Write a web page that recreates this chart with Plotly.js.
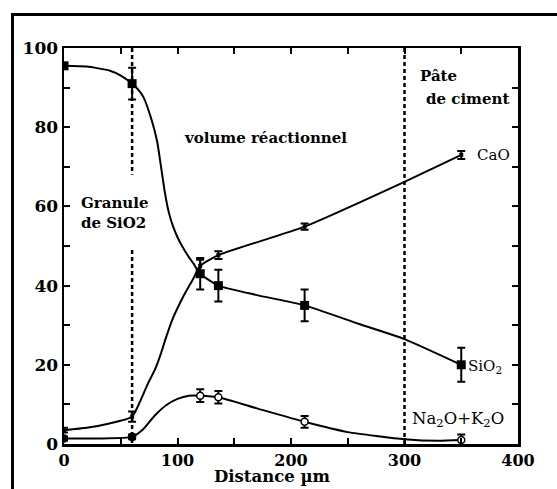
<!DOCTYPE html>
<html>
<head>
<meta charset="utf-8">
<script src="https://cdn.plot.ly/plotly-3.0.1.min.js"></script>
<style>
  html, body { margin: 0; padding: 0; background: #fff; }
  #wrap { position: relative; width: 557px; height: 489px; overflow: hidden; }
  #chart { position: absolute; left: 0; top: 0; width: 557px; height: 489px; }
  #frame { position: absolute; left: 11px; top: 13px; width: 560px; height: 490px;
           border-left: 3px solid #000; border-top: 3px solid #000; pointer-events: none; }
</style>
</head>
<body>
<div id="wrap"><div id="chart"></div><div id="frame"></div></div>
<script>
// ---- measured points (distance in µm, content in %) ----
const distance = [0, 60, 120, 136, 212, 350];
const sio2 = [95.5, 91, 43, 40, 35, 20];
const sio2Err = [0, 4, 4, 4, 4, 4.3];
const cao = [3.5, 6.9, 45, 47.7, 54.9, 73];
const caoErr = [0.6, 1.3, 1.5, 1, 0.8, 1];
const na2o = [1.4, 1.8, 12.2, 11.8, 5.6, 1];
const na2oErr = [0.5, 0.6, 1.6, 1.6, 1.5, 1.4];

// ---- fitted curves ----
const sio2CurveX = [0, 20, 40, 50, 60, 65, 70, 77, 82, 85.5, 89, 92.5, 96, 100, 104, 110, 114, 120, 136, 170, 212, 260, 300, 350];
const sio2CurveY = [95.5, 95.3, 94.3, 93, 91, 89.6, 87.6, 82, 76.5, 70, 63.3, 58.3, 55, 52.2, 50, 47.2, 45.6, 43, 40, 37.6, 35, 30.3, 26.5, 20];
const caoCurveX = [0, 20, 40, 60, 67, 74, 80, 85, 90, 96, 105, 114, 120, 136, 212, 300, 350];
const caoCurveY = [3.5, 4.1, 5.2, 6.9, 10.7, 15.3, 18.7, 22.5, 27, 31.8, 37.2, 41.8, 45, 47.7, 54.9, 66.2, 73];
const naCurveX = [0, 30, 60, 70, 80, 90, 100, 110, 120, 136, 170, 212, 250, 300, 330, 350];
const naCurveY = [1.4, 1.4, 1.8, 3.8, 7.2, 9.8, 11.4, 12.2, 12.2, 11.8, 9, 5.6, 3, 1.2, 0.8, 1];

// ---- axis ticks ----
const xTickVals = [0, 50, 100, 150, 200, 250, 300, 350, 400];
const xTickText = ['0', '', '100', '', '200', '', '300', '', '400'];
const yTickVals = [0, 10, 20, 30, 40, 50, 60, 70, 80, 90, 100];
const yTickText = ['0', '', '20', '', '40', '', '60', '', '80', '', '100'];

const serif = '"DejaVu Serif", serif';
const naFill = na2o.map((v, i) => i < 2 ? '#000' : '#fff');

function curve(x, y) {
  return { x: x, y: y, mode: 'lines', type: 'scatter', hoverinfo: 'skip',
           line: { color: '#000', width: 2, shape: 'spline', smoothing: 0.5 }, showlegend: false };
}
function pts(y, err, marker) {
  return { x: distance, y: y, mode: 'markers', type: 'scatter', showlegend: false,
           marker: marker,
           error_y: { type: 'data', array: err, visible: true, color: '#000', thickness: 2, width: 4 } };
}

const traces = [
  curve(sio2CurveX, sio2CurveY),
  curve(caoCurveX, caoCurveY),
  curve(naCurveX, naCurveY),
  pts(sio2, sio2Err, { symbol: 'square', size: 9, color: '#000' }),
  pts(cao, caoErr, { symbol: 'square', size: 4, color: '#000' }),
  pts(na2o, na2oErr, { symbol: 'circle', size: 7, color: naFill, line: { color: '#000', width: 1.5 } })
];

const ann = (x, y, text, size, bold) => ({
  x: x, y: y, xref: 'x', yref: 'y', text: bold ? '<b>' + text + '</b>' : text,
  showarrow: false, xanchor: 'left', yanchor: 'middle', align: 'left',
  font: { family: serif, size: size, color: '#000' }
});

const layout = {
  width: 557, height: 489,
  margin: { l: 64, r: 39, t: 48, b: 45 },
  paper_bgcolor: '#fff', plot_bgcolor: '#fff',
  font: { family: serif, color: '#000' },
  xaxis: {
    range: [0, 400], showgrid: false, zeroline: false,
    showline: true, linecolor: '#000', linewidth: 2.5, mirror: 'allticks',
    ticks: 'inside', ticklen: 6, tickwidth: 2, tickcolor: '#000',
    tickvals: xTickVals, ticktext: xTickText.map(t => t ? '<b>' + t + '</b>' : ''),
    tickfont: { family: serif, size: 16, color: '#000' }
  },
  yaxis: {
    range: [0, 100], showgrid: false, zeroline: false,
    showline: true, linecolor: '#000', linewidth: 2.5, mirror: 'allticks',
    ticks: 'inside', ticklen: 6, tickwidth: 2, tickcolor: '#000',
    tickvals: yTickVals, ticktext: yTickText.map(t => t ? '<b>' + t + '</b>' : ''),
    tickfont: { family: serif, size: 17, color: '#000' }
  },
  shapes: [
    { type: 'line', xref: 'x', yref: 'y', x0: 60, x1: 60, y0: 100, y1: 68,
      line: { color: '#000', width: 2.5, dash: '4px,3px' } },
    { type: 'line', xref: 'x', yref: 'y', x0: 60, x1: 60, y0: 49, y1: 0,
      line: { color: '#000', width: 2.5, dash: '4px,3px' } },
    { type: 'line', xref: 'x', yref: 'y', x0: 300, x1: 300, y0: 100, y1: 0,
      line: { color: '#000', width: 2.5, dash: '4px,3px' } }
  ],
  annotations: [
    ann(104, 77.3, 'volume réactionnel', 15, true),
    ann(13.5, 58.3, 'Granule<br>de SiO2', 15, true),
    ann(312, 92.9, 'Pâte', 15, true),
    ann(317, 87.1, 'de ciment', 15, true),
    ann(362, 73, 'CaO', 15, false),
    ann(354, 19.5, 'SiO<sub>2</sub>', 15, false),
    ann(305, 6.1, 'Na<sub>2</sub>O+K<sub>2</sub>O', 16.5, false),
    { x: 0.459, y: -0.11, xref: 'paper', yref: 'paper', text: '<b>Distance µm</b>', showarrow: false,
      xanchor: 'center', yanchor: 'bottom',
      font: { family: serif, size: 16.5, color: '#000' } }
  ]
};

Plotly.newPlot('chart', traces, layout, { staticPlot: true, displayModeBar: false });
</script>
</body>
</html>
